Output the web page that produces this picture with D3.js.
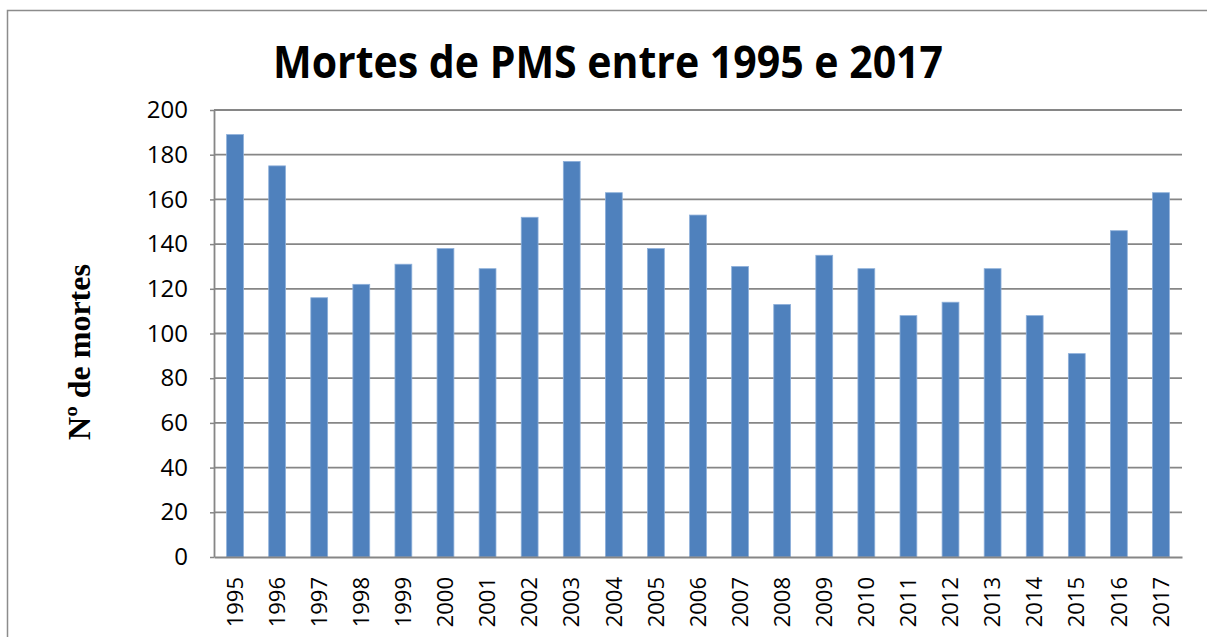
<!DOCTYPE html>
<html>
<head>
<meta charset="utf-8">
<script src="https://cdn.jsdelivr.net/npm/d3@7"></script>
<style>
  body { margin: 0; background: #fff; }
  svg { display: block; }
</style>
</head>
<body>
<div id="chart"></div>
<script>
// data
const years = ["1995","1996","1997","1998","1999","2000","2001","2002","2003","2004","2005","2006",
               "2007","2008","2009","2010","2011","2012","2013","2014","2015","2016","2017"];
const deaths = [189, 175, 116, 122, 131, 138, 129, 152, 177, 163, 138, 153,
                130, 113, 135, 129, 108, 114, 129, 108, 91, 146, 163];
const yTicks = [0, 20, 40, 60, 80, 100, 120, 140, 160, 180, 200];
const titleText = "Mortes de PMS entre 1995 e 2017";
const yTitle = "Nº de mortes";

const width = 1207, height = 637;
const margin = {top: 110, right: 25, bottom: 80, left: 214};

const svg = d3.select("#chart").append("svg")
    .attr("width", width)
    .attr("height", height);

// outer chart frame (runs off the right/bottom edge)
svg.append("path")
    .attr("d", "M7.5," + height + " V10.5 H" + width)
    .attr("fill", "none")
    .attr("stroke", "#8c8c8c")
    .attr("stroke-width", 1.5);

const x = d3.scaleBand()
    .domain(years)
    .range([margin.left, width - margin.right])
    .paddingInner(0.6)
    .paddingOuter(0.3);

const y = d3.scaleLinear()
    .domain([0, 200])
    .range([height - margin.bottom, margin.top]);

// gridlines
svg.append("g")
    .selectAll("line")
    .data(yTicks.filter(d => d > 0))
    .join("line")
    .attr("x1", margin.left)
    .attr("x2", width - margin.right)
    .attr("y1", d => y(d))
    .attr("y2", d => y(d))
    .attr("stroke", "#868686")
    .attr("stroke-width", 1.8);

// bars
svg.append("g")
    .selectAll("rect")
    .data(deaths)
    .join("rect")
    .attr("x", (d, i) => x(years[i]))
    .attr("y", d => y(d))
    .attr("width", x.bandwidth())
    .attr("height", d => y(0) - y(d))
    .attr("fill", "#4f81bd")
    .attr("stroke", "#8eb0da")
    .attr("stroke-width", 0.8);

// y axis
const yAxis = svg.append("g")
    .attr("transform", "translate(" + margin.left + ",0)")
    .call(d3.axisLeft(y).tickValues(yTicks).tickSize(4).tickSizeOuter(0).tickPadding(22));
yAxis.select(".domain").attr("stroke", "#868686").attr("stroke-width", 1.8);
yAxis.selectAll(".tick line").attr("stroke", "#868686").attr("stroke-width", 1.5);
yAxis.selectAll(".tick text")
    .attr("fill", "#000")
    .style("font-family", "'Open Sans', 'Liberation Sans', sans-serif")
    .style("font-size", "24px");

// x axis
const xAxis = svg.append("g")
    .attr("transform", "translate(0," + y(0) + ")")
    .call(d3.axisBottom(x).tickSize(0).tickSizeOuter(0));
xAxis.select(".domain").attr("stroke", "#868686").attr("stroke-width", 1.8);
xAxis.selectAll(".tick text")
    .attr("fill", "#000")
    .attr("transform", "rotate(-90)")
    .attr("text-anchor", "end")
    .attr("x", -20)
    .attr("y", 0)
    .attr("dy", "0.35em")
    .style("font-family", "'Open Sans', 'Liberation Sans', sans-serif")
    .style("font-size", "22px");

// title
svg.append("text")
    .attr("x", 608)
    .attr("y", 78)
    .attr("text-anchor", "middle")
    .attr("textLength", 670)
    .attr("lengthAdjust", "spacingAndGlyphs")
    .style("font-family", "'Open Sans', 'Liberation Sans', sans-serif")
    .style("font-weight", "bold")
    .style("font-size", "44px")
    .text(titleText);

// y axis title
svg.append("text")
    .attr("transform", "translate(90,352) rotate(-90)")
    .attr("text-anchor", "middle")
    .style("font-family", "'Liberation Serif', 'Times New Roman', serif")
    .style("font-weight", "bold")
    .style("font-size", "32px")
    .text(yTitle);
</script>
</body>
</html>
